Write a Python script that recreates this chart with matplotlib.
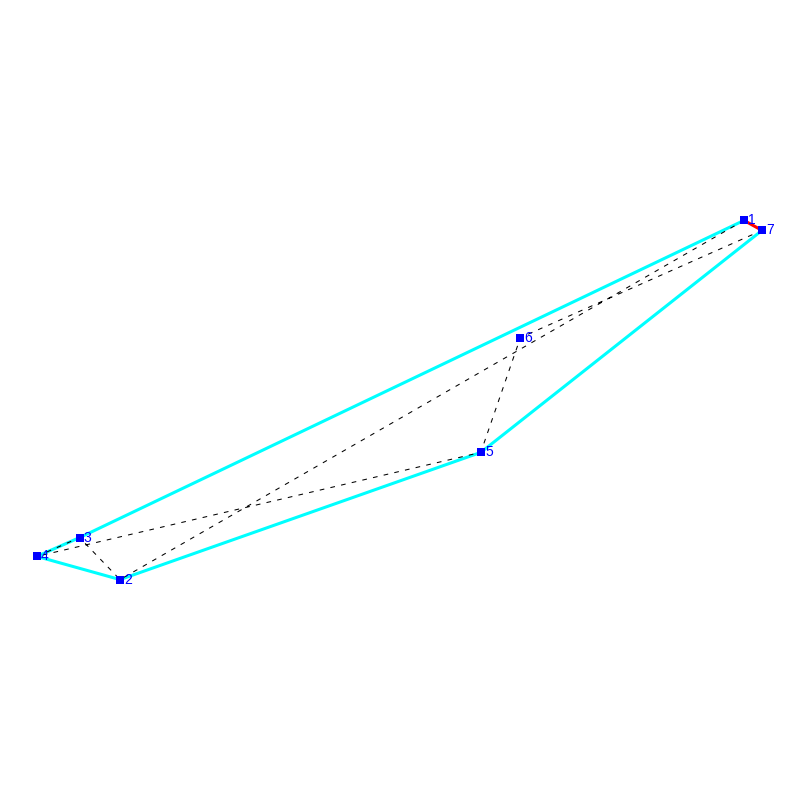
import matplotlib
matplotlib.use("Agg")
import matplotlib.pyplot as plt

labels = ["1", "2", "3", "4", "5", "6", "7"]
xs = [93.0, 15.0, 9.95, 4.6, 60.1, 65.05, 95.25]
ys = [72.45, 27.55, 32.8, 30.45, 43.45, 57.8, 71.2]
hull_order = [1, 3, 4, 2, 5, 7]
red_order = [7, 1]
tour_order = [1, 2, 3, 4, 5, 6, 7]

def pick(values, order):
    return [values[i - 1] for i in order]

fig = plt.figure(figsize=(8, 8), dpi=100)
ax = fig.add_axes([0, 0, 1, 1])
ax.set_xlim(0, 100)
ax.set_ylim(0, 100)
ax.axis("off")

ax.plot(pick(xs, hull_order), pick(ys, hull_order), color="#00ffff", lw=2.2, zorder=1,
        solid_capstyle="round")
ax.plot(pick(xs, red_order), pick(ys, red_order), color="#ff0000", lw=2.2, zorder=2)
ax.plot(pick(xs, tour_order), pick(ys, tour_order), color="black", lw=0.75, zorder=3,
        dashes=(4.5, 6.0), dash_capstyle="butt")
ax.plot(xs, ys, ls="none", marker="s", ms=5.6, mfc="#0000ff", mec="#0000ff", mew=0, zorder=4)
for lab, x, y in zip(labels, xs, ys):
    ax.annotate(lab, (x, y), xytext=(3.0, 0.0), textcoords="offset points", color="#0000ff",
                fontsize=10, family="Liberation Sans", va="center", ha="left", zorder=5)

fig.savefig("out.png", dpi=100)
